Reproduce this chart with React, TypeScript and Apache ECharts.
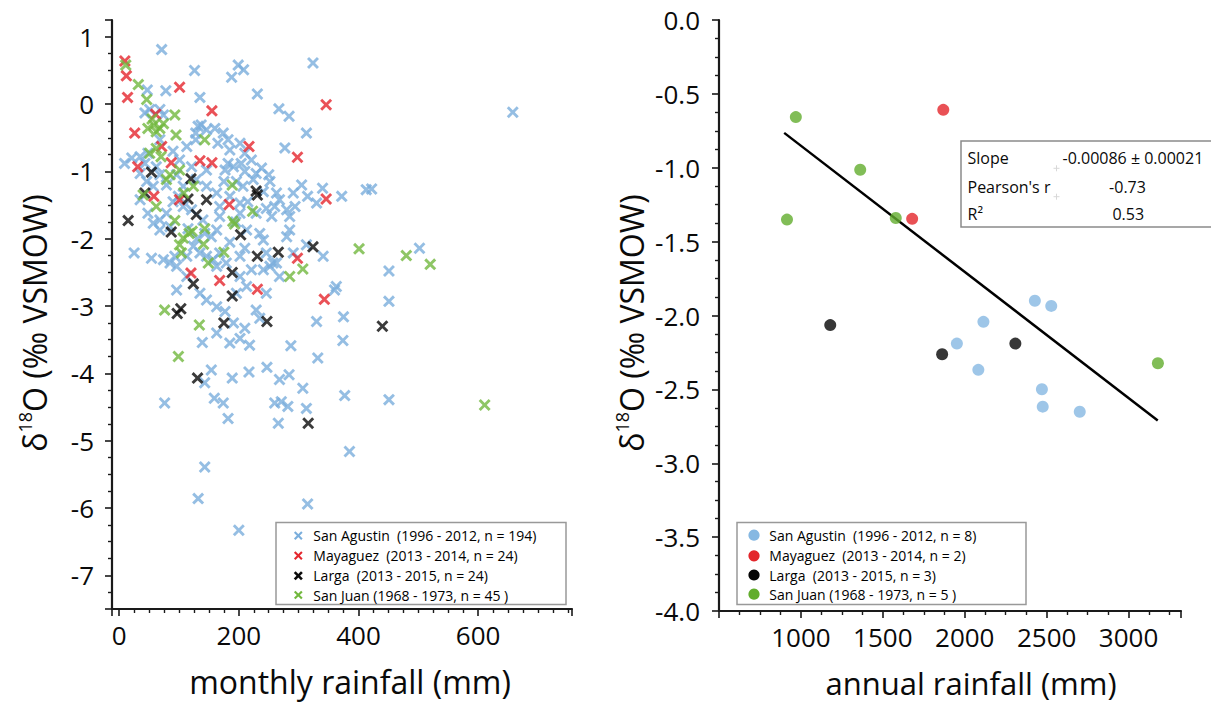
import React, { useEffect, useRef } from "react";
import * as echarts from "echarts";

const FONT = "'Open Sans', 'Noto Sans', sans-serif";

// ---- Left panel: monthly rainfall (mm) vs d18O ----
const sanAgustinMonthly: number[][] = [
  [658, -0.12], [372, -1.37], [413, -1.27], [422, -1.26], [502, -2.14], [451, -2.48], [451, -2.93], [375, -3.16], [374, -3.51], [360, -2.76], [377, -4.33], [451, -4.39], [385, -5.16],
  [139, -3.54], [185, -3.55], [218, -3.58], [287, -3.59], [332, -3.77], [154, -3.95], [143, -4.14], [159, -4.37], [174, -4.44], [182, -4.67], [189, -4.07], [217, -3.98], [247, -3.91], [268, -4.09], [284, -4.02], [307, -4.22], [313, -4.52], [260, -4.44], [271, -4.42], [282, -4.49], [266, -4.74], [76, -4.44], [143, -5.39], [132, -5.86], [315, -5.94], [200, -6.33],
  [71, 0.81], [126, 0.5], [199, 0.58], [208, 0.51], [188, 0.4], [231, 0.15], [135, 0.1], [78, 0.2], [324, 0.61], [47, 0.21], [267, -0.07], [284, -0.18], [313, -0.43], [277, -0.65],
  [132, -0.33], [137, -0.31], [128, -0.43], [128, -0.53], [146, -0.38], [160, -0.36], [174, -0.43], [165, -0.58], [182, -0.53], [185, -0.68], [202, -0.58], [210, -0.73], [221, -0.83], [229, -1.03], [191, -0.93], [177, -0.98], [182, -0.88], [204, -0.88], [210, -1.0], [74, -0.16], [68, -0.08],
  [9, -0.88], [21, -0.8], [35, -1.03], [43, -0.88], [48, -0.73], [62, -0.93], [68, -1.05], [79, -1.2], [96, -1.05], [107, -1.22], [46, -1.15], [57, -1.22], [35, -1.42], [48, -1.62], [57, -1.77], [68, -1.72], [79, -1.62], [68, -1.87], [85, -1.82],
  [25, -2.21], [54, -2.29], [74, -2.31], [85, -2.36], [93, -2.26], [96, -2.41], [113, -2.26], [124, -2.11], [135, -2.21], [143, -1.92], [154, -1.97], [163, -1.87], [146, -2.26], [157, -2.31], [168, -2.21], [179, -2.36], [163, -2.41],
  [96, -2.76], [113, -2.56], [135, -2.81], [146, -2.91], [163, -3.01], [177, -3.08], [163, -3.4], [191, -3.25], [210, -3.33], [202, -3.48], [229, -3.06], [235, -3.18], [246, -2.81], [241, -2.46], [252, -2.41], [263, -2.36], [202, -2.56], [213, -2.71], [196, -2.81], [221, -2.46], [210, -2.14], [202, -2.26], [235, -1.92], [241, -2.02], [213, -1.87],
  [229, -1.62], [246, -1.55], [255, -1.67], [263, -1.32], [268, -1.42], [260, -1.52], [280, -1.57], [285, -1.67], [294, -1.52], [291, -1.32], [305, -1.2], [315, -1.37], [340, -1.25], [330, -1.47], [285, -1.87], [280, -1.97], [246, -2.21], [257, -2.36], [268, -2.56], [291, -2.21], [313, -2.09], [341, -2.26], [363, -2.71], [330, -3.23],
  [43, -0.13], [51, -0.08], [35, -0.78], [113, -0.63], [68, -0.53], [90, -0.7], [101, -0.83], [121, -0.93], [146, -0.98], [129, -1.12], [146, -1.22], [163, -1.32], [168, -1.52], [185, -1.37], [202, -1.47], [202, -1.62], [168, -1.67], [140, -1.72], [121, -1.57], [107, -1.52], [99, -1.37], [252, -1.15], [241, -1.3], [224, -1.12], [207, -1.22],
  [238, -0.95], [250, -1.05], [196, -1.15], [215, -1.45], [175, -1.15], [90, -1.45], [115, -1.85], [130, -2.0], [185, -2.05], [195, -1.75],
];
const mayaguezMonthly: number[][] = [
  [9.5, 0.64], [12, 0.42], [14, 0.1], [101, 0.25], [155, -0.1], [61, -0.15], [26, -0.43], [71, -0.63], [31, -0.93], [87, -0.87], [135, -0.84], [155, -0.87],
  [217, -0.63], [298, -0.79], [346, -0.01], [58, -1.37], [101, -1.42], [184, -1.49], [346, -1.41], [298, -2.29], [120, -2.51], [168, -2.62], [231, -2.75], [343, -2.9],
];
const largaMonthly: number[][] = [
  [54, -1.01], [43, -1.32], [15, -1.73], [120, -1.11], [115, -1.41], [146, -1.42], [129, -1.64], [87, -1.9], [203, -1.94], [229, -1.29], [231, -1.35], [266, -2.2],
  [231, -2.26], [324, -2.12], [189, -2.5], [124, -2.67], [189, -2.85], [103, -3.04], [97, -3.11], [175, -3.25], [247, -3.23], [131, -4.07], [316, -4.74], [440, -3.3],
];
const sanJuanMonthly: number[][] = [
  [11, 0.58], [32, 0.29], [46, 0.07], [93, -0.16], [95, -0.46], [48, -0.36], [58, -0.31], [68, -0.36], [62, -0.41], [74, -0.29], [143, -0.53], [51, -0.73], [62, -0.66],
  [79, -1.12], [101, -0.98], [40, -1.35], [62, -1.52], [93, -1.73], [107, -1.99], [122, -1.89], [141, -2.08], [104, -2.21], [149, -2.36], [175, -2.2], [189, -1.2],
  [190, -1.74], [193, -1.78], [223, -1.59], [285, -2.56], [307, -2.45], [76, -3.06], [134, -3.28], [99, -3.75], [401, -2.15], [480, -2.25], [520, -2.38], [611, -4.47],
  [124, -1.22], [108, -1.32], [101, -2.09], [117, -1.92], [143, -1.85], [70, -0.78], [85, -1.05], [55, -0.22],
];

// ---- Right panel: annual rainfall (mm) vs d18O ----
const sanAgustinAnnual: number[][] = [
  [2428, -1.9], [2528, -1.935], [2114, -2.043], [1952, -2.19], [2083, -2.368], [2471, -2.499], [2476, -2.617], [2702, -2.651],
];
const mayaguezAnnual: number[][] = [[1869, -0.608], [1679, -1.346]];
const largaAnnual: number[][] = [[1179, -2.065], [1862, -2.262], [2309, -2.19]];
const sanJuanAnnual: number[][] = [[969, -0.657], [1362, -1.014], [915, -1.351], [1579, -1.34], [3179, -2.323]];
const trendLine: number[][] = [[898, -0.764], [3178, -2.711]];

const leftNames = [
  "San Agustin  (1996 - 2012, n = 194)",
  "Mayaguez  (2013 - 2014, n = 24)",
  "Larga  (2013 - 2015, n = 24)",
  "San Juan (1968 - 1973, n = 45 )",
];
const rightNames = [
  "San Agustin  (1996 - 2012, n = 8)",
  "Mayaguez  (2013 - 2014, n = 2)",
  "Larga  (2013 - 2015, n = 3)",
  "San Juan (1968 - 1973, n = 5 )",
];
const statLabels = ["Slope", "Pearson's r", "R²"];
const statValues = ["-0.00086 ± 0.00021", "-0.73", "0.53"];

const CROSS = "path://M1.7,0L5,3.3L8.3,0L10,1.7L6.7,5L10,8.3L8.3,10L5,6.7L1.7,10L0,8.3L3.3,5L0,1.7Z";
const COLORS_X = ["#7aaedc", "#e5262d", "#0a0a0a", "#72b83e"];
const COLORS_O = ["#86b8e2", "#e3262b", "#050505", "#62ad2d"];

const AX = "#1a1a1a";

function axisCommon() {
  return {
    type: "value" as const,
    axisLine: { show: true, onZero: false, lineStyle: { color: AX, width: 2.2 } },
    axisTick: { show: true, inside: false, length: 7, lineStyle: { color: AX, width: 1.6 } },
    minorTick: { show: true, length: 4, lineStyle: { color: AX, width: 1.4 } },
    splitLine: { show: false },
    minorSplitLine: { show: false },
    axisLabel: { color: "#0a0a0a", fontSize: 26, fontFamily: FONT },
  };
}

function legendGraphics(names: string[], colors: string[], kind: "x" | "o", iconX: number, textX: number, rows: number[]) {
  const out: any[] = [];
  names.forEach((name, i) => {
    const y = rows[i];
    if (kind === "x") {
      const h = 3.6;
      const w = i === 2 ? 2.6 : 2.1;
      out.push({ type: "line", z: 10, shape: { x1: iconX - h, y1: y - h, x2: iconX + h, y2: y + h }, style: { stroke: colors[i], lineWidth: w } });
      out.push({ type: "line", z: 10, shape: { x1: iconX - h, y1: y + h, x2: iconX + h, y2: y - h }, style: { stroke: colors[i], lineWidth: w } });
    } else {
      out.push({ type: "circle", z: 10, shape: { cx: iconX, cy: y, r: 5.6 }, style: { fill: colors[i] } });
    }
    out.push({
      type: "text",
      z: 10,
      x: textX,
      y,
      style: { text: name, fontSize: 14, fontFamily: FONT, fill: "#000", align: "left", verticalAlign: "middle" },
    });
  });
  return out;
}

export default function App() {
  const ref = useRef<HTMLDivElement>(null);
  useEffect(() => {
    document.body.style.margin = "0";
    if (!ref.current) return;
    const chart = echarts.init(ref.current, undefined, { renderer: "svg" });
    const leftData = [sanAgustinMonthly, mayaguezMonthly, largaMonthly, sanJuanMonthly];
    const rightData = [sanAgustinAnnual, mayaguezAnnual, largaAnnual, sanJuanAnnual];
    const order = [0, 3, 1, 2];
    const series: any[] = [];
    order.forEach((i) => {
      series.push({
        type: "scatter",
        name: leftNames[i],
        xAxisIndex: 0,
        yAxisIndex: 0,
        symbol: CROSS,
        symbolSize: 12,
        itemStyle: { color: COLORS_X[i] },
        data: leftData[i],
        z: 2 + i,
      });
    });
    series.push({
      type: "line",
      xAxisIndex: 1,
      yAxisIndex: 1,
      data: trendLine,
      symbol: "none",
      lineStyle: { color: "#000", width: 2.5 },
      z: 2,
    });
    [0, 1, 2, 3].forEach((i) => {
      series.push({
        type: "scatter",
        name: rightNames[i],
        xAxisIndex: 1,
        yAxisIndex: 1,
        symbol: "circle",
        symbolSize: 12,
        itemStyle: { color: COLORS_O[i] },
        data: rightData[i],
        z: 3,
      });
    });

    const option: any = {
      animation: false,
      backgroundColor: "#fff",
      grid: [
        { left: 112, top: 20, width: 460, height: 589, containLabel: false, outerBoundsMode: "none" },
        { left: 719, top: 20, width: 462, height: 591, containLabel: false, outerBoundsMode: "none" },
      ],
      xAxis: [
        {
          ...axisCommon(),
          gridIndex: 0,
          min: -12,
          max: 757,
          splitNumber: 4,
          minorTick: { ...axisCommon().minorTick, splitNumber: 8 },
          axisLabel: {
            ...axisCommon().axisLabel,
            margin: 13,
            formatter: (v: number) => (v >= 0 && v % 200 === 0 ? String(v) : ""),
          },
        },
        {
          ...axisCommon(),
          gridIndex: 1,
          min: 500,
          max: 3320,
          splitNumber: 5,
          minorTick: { ...axisCommon().minorTick, splitNumber: 4 },
          axisLabel: {
            ...axisCommon().axisLabel,
            margin: 13,
            formatter: (v: number) => (v >= 1000 && v <= 3000 && v % 500 === 0 ? String(v) : ""),
          },
        },
      ],
      yAxis: [
        {
          ...axisCommon(),
          gridIndex: 0,
          min: -7.5,
          max: 1.25,
          splitNumber: 8,
          minorTick: { ...axisCommon().minorTick, splitNumber: 4 },
          axisLabel: {
            ...axisCommon().axisLabel,
            margin: 18,
            formatter: (v: number) => (Number.isInteger(v) ? String(v) : ""),
          },
        },
        {
          ...axisCommon(),
          gridIndex: 1,
          min: -4,
          max: 0,
          interval: 0.5,
          minorTick: { ...axisCommon().minorTick, splitNumber: 4 },
          axisLabel: {
            ...axisCommon().axisLabel,
            margin: 19,
            formatter: (v: number) => v.toFixed(1),
          },
        },
      ],
      graphic: [
        { type: "rect", shape: { x: 276, y: 522.5, width: 290, height: 82 }, style: { fill: "#fff", stroke: "#999", lineWidth: 1.5 }, z: 8 },
        { type: "rect", shape: { x: 737, y: 522.5, width: 289, height: 82 }, style: { fill: "#fff", stroke: "#999", lineWidth: 1.5 }, z: 8 },
        ...legendGraphics(leftNames, COLORS_X, "x", 298.3, 313.3, [535.7, 555.7, 575.8, 595]),
        ...legendGraphics(rightNames, COLORS_O, "o", 754, 769.3, [535.2, 555.8, 575, 594.2]),
        { type: "rect", shape: { x: 961, y: 141, width: 270, height: 86 }, style: { fill: "#fff", stroke: "#8a8a8a", lineWidth: 1.5 }, z: 8 },
        { type: "line", shape: { x1: 1053.5, y1: 168.3, x2: 1059.5, y2: 168.3 }, style: { stroke: "#d8d8d8", lineWidth: 1 }, z: 9 },
        { type: "line", shape: { x1: 1056.5, y1: 165.3, x2: 1056.5, y2: 171.3 }, style: { stroke: "#d8d8d8", lineWidth: 1 }, z: 9 },
        { type: "line", shape: { x1: 1053.5, y1: 196.7, x2: 1059.5, y2: 196.7 }, style: { stroke: "#d8d8d8", lineWidth: 1 }, z: 9 },
        { type: "line", shape: { x1: 1056.5, y1: 193.7, x2: 1056.5, y2: 199.7 }, style: { stroke: "#d8d8d8", lineWidth: 1 }, z: 9 },
        ...statLabels.map((t, i) => ({
          type: "text",
          x: 967.5,
          y: [158.3, 186.7, 214.3][i],
          z: 10,
          style: { text: t, fontSize: 16, fontFamily: FONT, fill: "#0a0a0a", align: "left", verticalAlign: "middle" },
        })),
        ...statValues.map((t, i) => ({
          type: "text",
          x: [1062.5, 1127.5, 1128.3][i],
          y: [158.3, 186.7, 214.3][i],
          z: 10,
          style: { text: t, fontSize: 16, fontFamily: FONT, fill: "#0a0a0a", align: i === 0 ? "left" : "center", verticalAlign: "middle" },
        })),
        ...[
          { x: 34, y: 323 },
          { x: 631, y: 323 },
        ].map((p) => ({
          type: "text",
          x: p.x,
          y: p.y,
          rotation: Math.PI / 2,
          z: 10,
          style: {
            text: "{a|δ}{b|18}{a|O (‰ VSMOW)}",
            align: "center",
            verticalAlign: "middle",
            fill: "#0a0a0a",
            rich: {
              a: { fontSize: 32, fontFamily: FONT, fill: "#0a0a0a", lineHeight: 36 },
              b: { fontSize: 18, fontFamily: FONT, fill: "#0a0a0a", verticalAlign: "top", lineHeight: 36 },
            },
          },
        })),
        {
          type: "text",
          x: 350,
          y: 681,
          z: 10,
          style: { text: "monthly rainfall (mm)", fontSize: 32, fontFamily: FONT, fill: "#0a0a0a", align: "center", verticalAlign: "middle" },
        },
        {
          type: "text",
          x: 971,
          y: 683,
          z: 10,
          style: { text: "annual rainfall (mm)", fontSize: 31, lineHeight: 34, fontFamily: FONT, fill: "#0a0a0a", align: "center", verticalAlign: "middle" },
        },
      ],
      series,
    };
    chart.setOption(option);
    return () => chart.dispose();
  }, []);
  return <div ref={ref} style={{ width: 1211, height: 704 }} />;
}
